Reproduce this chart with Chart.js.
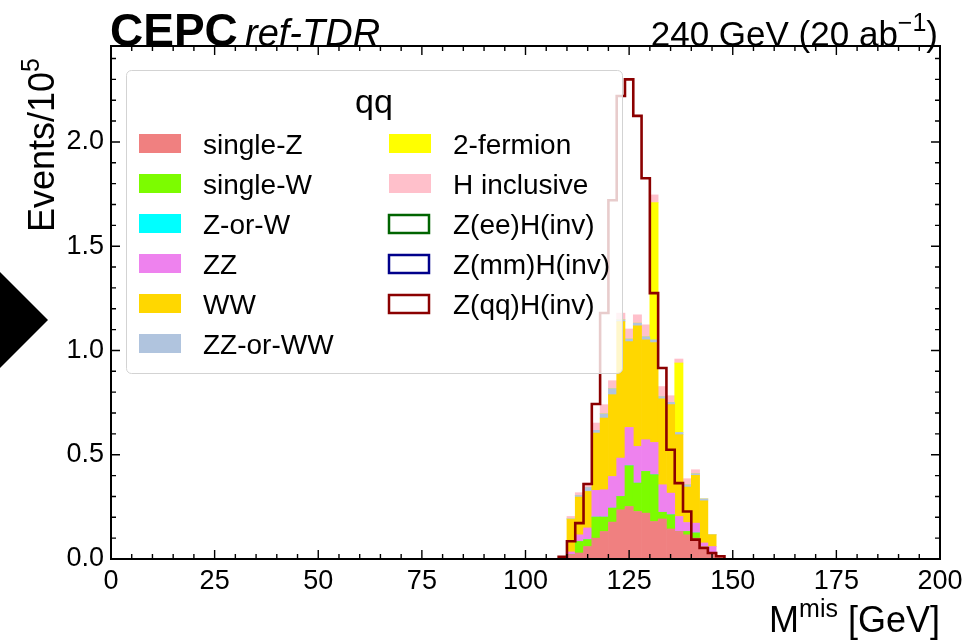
<!DOCTYPE html>
<html lang="en">
<head>
<meta charset="UTF-8">
<title>CEPC qq recoil mass</title>
<script src="https://cdn.jsdelivr.net/npm/chart.js@4"></script>
<style>
  html, body { margin: 0; padding: 0; background: #fff; }
  #wrap { width: 978px; height: 642px; }
</style>
</head>
<body>
<div id="wrap"><canvas id="chart" width="978" height="642"></canvas></div>
<script>
// 2 GeV bins, 108 -> 148 GeV; values in units of 1e5 events
const binCenters = [109, 111, 113, 115, 117, 119, 121, 123, 125, 127, 129, 131, 133, 135, 137, 139, 141, 143, 145, 147];
const binWidth = 2;

const singleZ    = [0, 0.021, 0.029, 0.060, 0.100, 0.132, 0.177, 0.236, 0.252, 0.228, 0.220, 0.180, 0.192, 0.144, 0.132, 0.116, 0.100, 0.060, 0.032, 0.010];
const singleW    = [0, 0, 0.055, 0.033, 0.101, 0.069, 0.067, 0.064, 0.195, 0.136, 0.200, 0.224, 0.032, 0.068, 0, 0.016, 0.025, 0, 0, 0];
const zOrW       = [0, 0, 0, 0, 0, 0, 0, 0, 0, 0, 0, 0, 0, 0, 0, 0, 0, 0, 0, 0];
const zz         = [0, 0.013, 0.032, 0.056, 0.128, 0.131, 0.152, 0.184, 0.184, 0.176, 0.152, 0.155, 0.132, 0.104, 0.072, 0.043, 0.047, 0.017, 0.028, 0];
const ww         = [0, 0.156, 0.181, 0.175, 0.275, 0.344, 0.392, 0.654, 0.411, 0.578, 0.479, 0.479, 0.412, 0.424, 0.392, 0.170, 0.229, 0.202, 0.056, 0];
const zzOrWw     = [0, 0.003, 0.008, 0.019, 0.013, 0.020, 0.029, 0.009, 0.013, 0.013, 0.015, 0.013, 0.011, 0.011, 0.011, 0.011, 0.008, 0.009, 0, 0];
const twoFermion = [0, 0, 0, 0, 0, 0, 0, 0, 0, 0, 0, 0.658, 0, 0, 0.333, 0, 0, 0, 0, 0];
const hIncl      = [0, 0.011, 0.013, 0.021, 0.035, 0.044, 0.038, 0.032, 0.048, 0.040, 0.057, 0.037, 0.048, 0.032, 0.019, 0.029, 0.019, 0, 0, 0];

const zeeHinv = [];
const zmmHinv = [];
const zqqHinv = [0.010, 0.085, 0.172, 0.360, 0.743, 1.180, 1.720, 2.220, 2.300, 2.125, 1.826, 1.275, 0.916, 0.524, 0.364, 0.228, 0.093, 0.053, 0.029, 0.013];

const xTicks = [0, 25, 50, 75, 100, 125, 150, 175, 200];
const yTicks = [0, 0.5, 1.0, 1.5, 2.0];

const FONT = '"Liberation Sans", Arial, sans-serif';

const stackDefs = [
    ['single-Z', singleZ, '#f08080'],
    ['single-W', singleW, '#7cfc00'],
    ['Z-or-W', zOrW, '#00ffff'],
    ['ZZ', zz, '#ee82ee'],
    ['WW', ww, '#ffd700'],
    ['ZZ-or-WW', zzOrWw, '#b0c4de'],
    ['2-fermion', twoFermion, '#ffff00'],
    ['H inclusive', hIncl, '#ffc0cb']
];
const lineDefs = [
    ['Z(ee)H(inv)', zeeHinv, '#006400'],
    ['Z(mm)H(inv)', zmmHinv, '#00008b'],
    ['Z(qq)H(inv)', zqqHinv, '#8b0000']
];

// histogram outline: left edges, stepped
function stepPoints(vals) {
    if (!vals.length) return [];
    const pts = [{x: binCenters[0] - binWidth / 2, y: 0}];
    vals.forEach((v, i) => pts.push({x: binCenters[i] - binWidth / 2, y: v}));
    const end = binCenters[vals.length - 1] + binWidth / 2;
    pts.push({x: end, y: vals[vals.length - 1]});
    pts.push({x: end, y: 0});
    return pts;
}

const datasets = [];
stackDefs.forEach(([label, vals, color]) => {
    datasets.push({
        type: 'bar', label: label, stack: 'bkg',
        data: binCenters.map((c, i) => ({x: c, y: vals[i]})),
        backgroundColor: color, borderWidth: 0,
        barPercentage: 1.0, categoryPercentage: 1.0
    });
});
lineDefs.forEach(([label, vals, color]) => {
    datasets.push({
        type: 'line', label: label, stack: 'sig_' + label, order: -1,
        data: stepPoints(vals), stepped: 'before',
        borderColor: color, borderWidth: 2.6, pointRadius: 0, fill: false,
        borderJoinStyle: 'miter', borderCapStyle: 'butt'
    });
});

// text with superscript pieces: [[text, isSup], ...]
function textRuns(ctx, runs, x, y, size, style, align) {
    const supSize = Math.round(size * 0.7);
    let total = 0;
    runs.forEach(r => {
        ctx.font = style + ' ' + (r[1] ? supSize : size) + 'px ' + FONT;
        total += ctx.measureText(r[0]).width;
    });
    let cx = align === 'right' ? x - total : x;
    ctx.textAlign = 'left';
    ctx.textBaseline = 'alphabetic';
    runs.forEach(r => {
        ctx.font = style + ' ' + (r[1] ? supSize : size) + 'px ' + FONT;
        ctx.fillText(r[0], cx, r[1] ? y - size * 0.42 : y);
        cx += ctx.measureText(r[0]).width;
    });
}

const decor = {
    id: 'decor',
    afterDatasetsDraw(chart) {
        const ctx = chart.ctx;
        const a = chart.chartArea;
        const xs = chart.scales.x, ys = chart.scales.y;
        ctx.save();

        // legend box, drawn over the histograms
        const lx = 126, ly = 70, lw = 496, lh = 303;
        ctx.beginPath();
        ctx.roundRect(lx + 0.5, ly + 0.5, lw, lh, 5);
        ctx.fillStyle = 'rgba(255,255,255,0.8)';
        ctx.fill();
        ctx.strokeStyle = '#d3d3d3';
        ctx.lineWidth = 1;
        ctx.stroke();

        ctx.fillStyle = '#000';
        ctx.font = '34px ' + FONT;
        ctx.textAlign = 'center';
        ctx.textBaseline = 'middle';
        ctx.fillText('qq', 374, 104);

        const entries = stackDefs.map(d => ({label: d[0], color: d[2], line: false}))
            .concat(lineDefs.map(d => ({label: d[0], color: d[2], line: true})));
        entries.forEach((e, i) => {
            const col = i < 6 ? 0 : 1;
            const row = i < 6 ? i : i - 6;
            const px = col === 0 ? 139 : 389;
            const py = 134 + row * 40;
            if (e.line) {
                ctx.strokeStyle = e.color;
                ctx.lineWidth = 2.5;
                ctx.strokeRect(px, py + 1, 40, 18);
            } else {
                ctx.fillStyle = e.color;
                ctx.fillRect(px, py, 42, 19);
            }
            ctx.fillStyle = '#000';
            ctx.font = '28px ' + FONT;
            ctx.textAlign = 'left';
            ctx.textBaseline = 'middle';
            ctx.fillText(e.label, col === 0 ? 203 : 453, py + 12);
        });

        // frame
        ctx.strokeStyle = '#000';
        ctx.lineWidth = 2;
        ctx.strokeRect(a.left, a.top, a.right - a.left, a.bottom - a.top);

        // inward ticks on all four sides
        ctx.lineWidth = 1.4;
        ctx.beginPath();
        for (let v = 0; v <= 200; v += 5) {
            const px = xs.getPixelForValue(v);
            const len = v % 25 === 0 ? 9 : 5;
            ctx.moveTo(px, a.bottom); ctx.lineTo(px, a.bottom - len);
            ctx.moveTo(px, a.top); ctx.lineTo(px, a.top + len);
        }
        for (let k = 0; k <= 24; k++) {
            const v = k / 10;
            const py = ys.getPixelForValue(v);
            const len = k % 5 === 0 ? 9 : 5;
            ctx.moveTo(a.left, py); ctx.lineTo(a.left + len, py);
            ctx.moveTo(a.right, py); ctx.lineTo(a.right - len, py);
        }
        ctx.stroke();

        // axis titles
        ctx.fillStyle = '#000';
        textRuns(ctx, [['M', false], ['mis', true], [' [GeV]', false]], a.right, 632, 36, '', 'right');
        ctx.save();
        ctx.translate(54, a.top + 12);
        ctx.rotate(-Math.PI / 2);
        textRuns(ctx, [['Events/10', false], ['5', true]], 0, 0, 36, '', 'right');
        ctx.restore();

        // header
        textRuns(ctx, [['CEPC', false]], 110, 46, 46, 'bold', 'left');
        textRuns(ctx, [['ref-TDR', false]], 245, 46, 38, 'italic', 'left');
        textRuns(ctx, [['240 GeV (20 ab', false], ['\u22121', true], [')', false]], 938, 46, 35, '', 'right');

        // black marker on the left edge
        ctx.beginPath();
        ctx.moveTo(0, 272); ctx.lineTo(48, 320); ctx.lineTo(0, 368);
        ctx.closePath();
        ctx.fillStyle = '#000';
        ctx.fill();

        ctx.restore();
    }
};

new Chart(document.getElementById('chart'), {
    type: 'bar',
    data: { datasets: datasets },
    options: {
        responsive: false,
        animation: false,
        devicePixelRatio: 1,
        layout: { padding: { left: 0, right: 38, top: 46, bottom: 0 } },
        plugins: { legend: { display: false }, tooltip: { enabled: false } },
        scales: {
            x: {
                type: 'linear', min: 0, max: 200, offset: false, stacked: true,
                grid: { display: false, drawTicks: false }, border: { display: false },
                afterBuildTicks: s => { s.ticks = xTicks.map(v => ({value: v})); },
                ticks: { autoSkip: false, maxRotation: 0, padding: 6, color: '#000',
                         font: { family: FONT, size: 27 } },
                afterFit: s => { s.height = 83; }
            },
            y: {
                min: 0, max: 2.46, stacked: true,
                grid: { display: false, drawTicks: false }, border: { display: false },
                afterBuildTicks: s => { s.ticks = yTicks.map(v => ({value: v})); },
                ticks: { padding: 7, color: '#000', font: { family: FONT, size: 27 },
                         callback: v => Number(v).toFixed(1) },
                afterFit: s => { s.width = 111; }
            }
        }
    },
    plugins: [decor]
});
</script>
</body>
</html>
